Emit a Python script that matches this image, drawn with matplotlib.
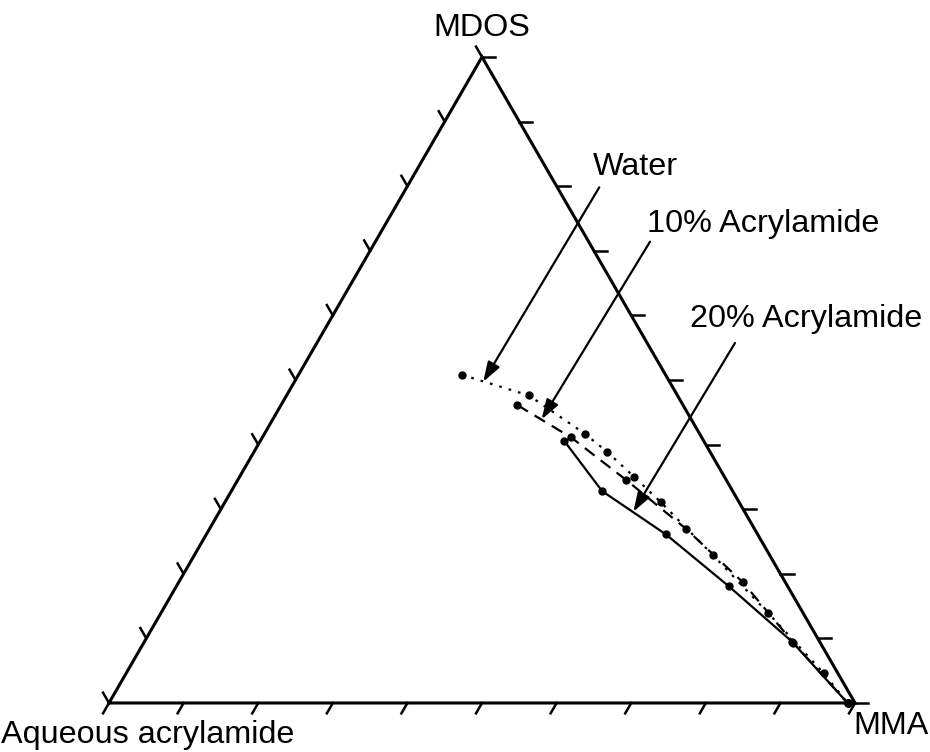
#%% ternary diagram: MDOS / MMA / aqueous acrylamide
import numpy as np
import matplotlib
matplotlib.use('Agg')
import matplotlib.pyplot as plt

plt.rcParams['font.family'] = ['Liberation Sans', 'DejaVu Sans']

#%% data (percent MDOS, percent MMA, rest is aqueous phase)

water_mdos = [50.8, 47.6, 41.7, 38.9, 35.0, 31.1, 22.9, 14.0, 4.6, 0.0]
water_mma  = [21.9, 32.5, 42.9, 47.3, 52.9, 58.4, 69.5, 81.3, 93.5, 99.0]

acr10_mdos = [46.1, 41.1, 34.5, 27.0, 18.7, 9.3, 0.0]
acr10_mma  = [31.7, 41.4, 52.1, 63.8, 75.6, 87.1, 99.0]

acr20_mdos = [40.6, 32.8, 26.1, 18.1, 9.5, 0.0]
acr20_mma  = [40.7, 49.7, 61.6, 74.0, 86.8, 99.0]

tick_vals = np.arange(0, 101, 10)

#%% helpers

H = np.sqrt(3)/2

def tern(mma, mdos):
    mma = np.asarray(mma)/100.
    mdos = np.asarray(mdos)/100.
    return mma + mdos/2, mdos*H

#%% figure

fig = plt.figure(figsize=(9.3, 7.52), dpi=100)
ax = fig.add_axes([0, 0, 1, 1])
ax.set_xlim(-0.1461, 1.1005)
ax.set_ylim(-0.0657, 0.9424)
ax.axis('off')

# triangle
ax.plot([0, 1, 0.5, 0], [0, 0, H, 0], color='k', lw=2.2, solid_joinstyle='miter', zorder=3)

# ticks (one set per side)
L = 0.016
for t in tick_vals/100.:
    # bottom side, ticks down-left
    x0, y0 = t, 0
    ax.plot([x0, x0 - L*0.5], [y0, y0 - L*H], color='k', lw=1.8)
    # left side, ticks up-left
    x0, y0 = t*0.5, t*H
    ax.plot([x0, x0 - L*0.5], [y0, y0 + L*H], color='k', lw=1.8)
    # right side, ticks to the right
    x0, y0 = 1 - t*0.5, t*H
    ax.plot([x0, x0 + L*1.1], [y0, y0], color='k', lw=1.8)

# series
x, y = tern(water_mma, water_mdos)
ax.plot(x, y, color='k', lw=1.6, ls=(0, (1.2, 3.2)), marker='o', ms=5, zorder=4)
x, y = tern(acr10_mma, acr10_mdos)
ax.plot(x, y, color='k', lw=1.6, ls=(0, (5.5, 3.5)), marker='o', ms=5, zorder=4)
x, y = tern(acr20_mma, acr20_mdos)
ax.plot(x, y, color='k', lw=1.6, ls='-', marker='o', ms=5, zorder=4)

# labels with arrows
aprops = dict(arrowstyle='-|>,head_length=0.75,head_width=0.25', mutation_scale=16,
              color='k', lw=1.6, shrinkA=0, shrinkB=0)
ax.annotate('', xy=(0.5017, 0.4307), xytext=(0.6572, 0.6913), arrowprops=aprops)
ax.annotate('', xy=(0.5800, 0.3803), xytext=(0.7252, 0.6184), arrowprops=aprops)
ax.annotate('', xy=(0.7028, 0.2564), xytext=(0.8391, 0.4826), arrowprops=aprops)

fs = 23.3
ax.text(0.6488, 0.7078, 'Water', fontsize=fs, ha='left', va='baseline')
ax.text(0.7212, 0.6314, '10% Acrylamide', fontsize=fs, ha='left', va='baseline')
ax.text(0.7788, 0.5040, '20% Acrylamide', fontsize=fs, ha='left', va='baseline')

ax.text(0.5, 0.8941, 'MDOS', fontsize=fs, ha='center', va='baseline')
ax.text(0.9973, -0.0416, 'MMA', fontsize=fs, ha='left', va='baseline')
ax.text(-0.145, -0.0536, 'Aqueous acrylamide', fontsize=fs, ha='left', va='baseline')

plt.savefig('out.png', dpi=100)
